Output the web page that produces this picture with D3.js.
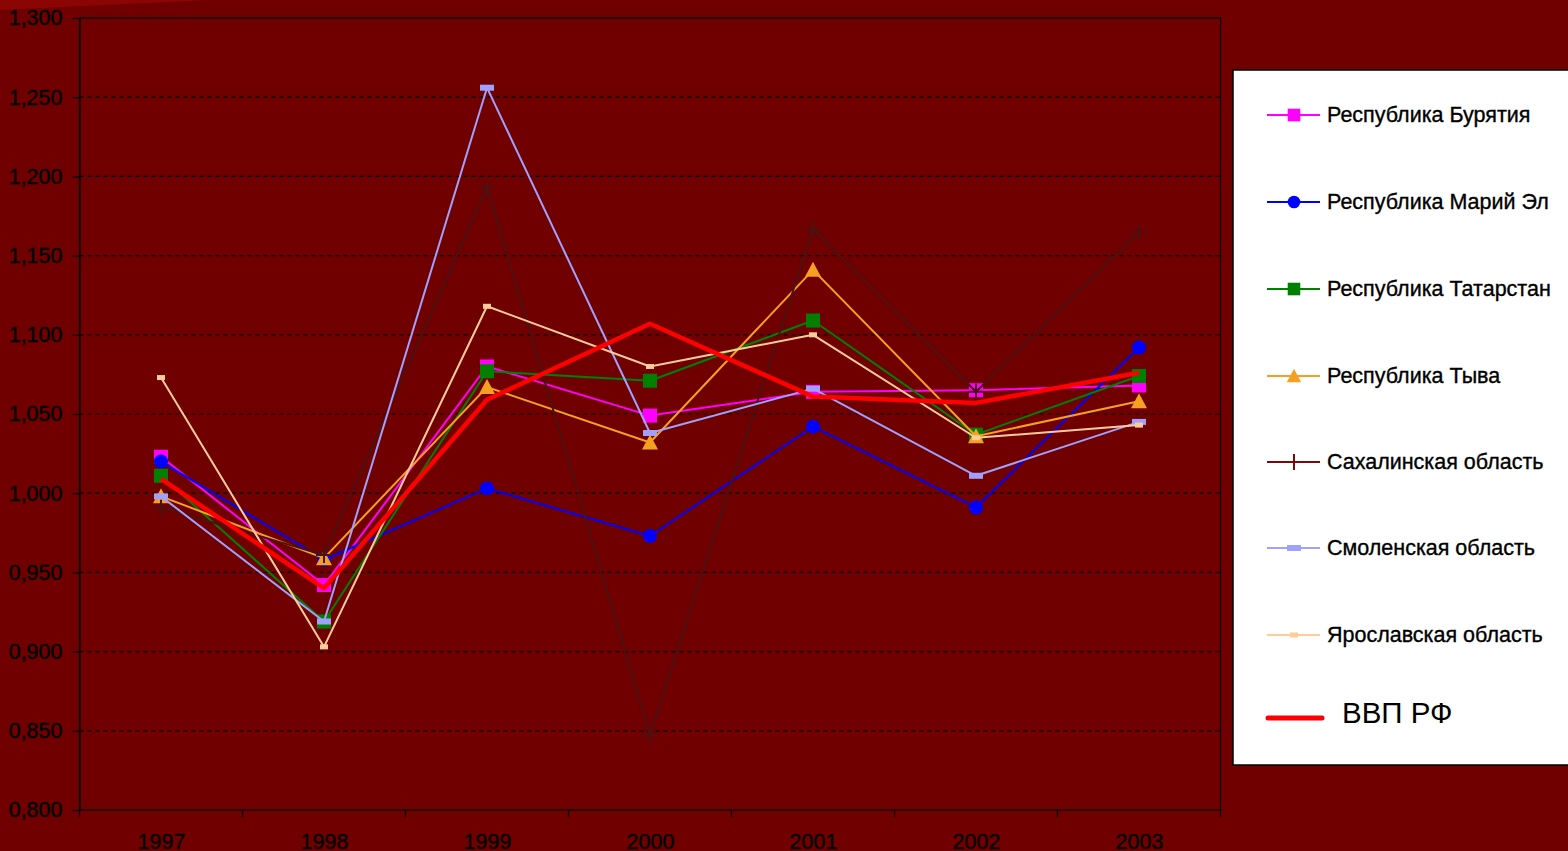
<!DOCTYPE html>
<html>
<head>
<meta charset="utf-8">
<script src="https://cdn.jsdelivr.net/npm/d3@7"></script>
<style>
  body { margin: 0; background: #700000; overflow: hidden; }
  text { font-family: "Liberation Sans", Arial, sans-serif; }
</style>
</head>
<body>
<script>
// canvas size
var w = 1568;
var h = 851;

// plot area
var pdL = 79.5;
var pdR = 1220.5;
var pdT = 18;
var pdB = 810;

// data
var years = ["1997", "1998", "1999", "2000", "2001", "2002", "2003"];
var yTicks = [0.8, 0.85, 0.9, 0.95, 1.0, 1.05, 1.1, 1.15, 1.2, 1.25, 1.3];

var buryatia  = [1.023, 0.942, 1.080, 1.049, 1.064, 1.065, 1.068];
var mariEl    = [1.020, 0.958, 1.003, 0.973, 1.042, 0.991, 1.092];
var tatarstan = [1.011, 0.919, 1.077, 1.071, 1.109, 1.037, 1.074];
var tyva      = [0.998, 0.959, 1.067, 1.032, 1.141, 1.036, 1.058];
var sakhalin  = [0.991, 0.961, 1.193, 0.847, 1.167, 1.064, 1.165];
var smolensk  = [0.998, 0.919, 1.256, 1.038, 1.066, 1.011, 1.045];
var yaroslavl = [1.073, 0.903, 1.118, 1.080, 1.100, 1.035, 1.043];
var vvp       = [1.009, 0.940, 1.059, 1.107, 1.061, 1.057, 1.076];

var series = [
  { name: "Республика Бурятия",   vals: buryatia,  col: "#ff00ff", lw: 2, mk: "square" },
  { name: "Республика Марий Эл",  vals: mariEl,    col: "#0000ff", lw: 2, mk: "circle" },
  { name: "Республика Татарстан", vals: tatarstan, col: "#008000", lw: 2, mk: "square" },
  { name: "Республика Тыва",      vals: tyva,      col: "#f5a020", lw: 2, mk: "triangle" },
  { name: "Сахалинская область",  vals: sakhalin,  col: "#4a1212", lw: 2, mk: "plus", legCol: "#7a0a0a" },
  { name: "Смоленская область",   vals: smolensk,  col: "#a0a0ff", lw: 2, mk: "dash" },
  { name: "Ярославская область",  vals: yaroslavl, col: "#ffcc99", lw: 2, mk: "smalldash" },
  { name: "ВВП РФ",               vals: vvp,       col: "#ff0000", lw: 4.5, mk: "none" }
];

var svg = d3.select("body").append("svg")
  .attr("width", w)
  .attr("height", h);

// faint lighter strip at top-left
svg.append("polygon")
  .attr("points", "0,0 210,0 0,10")
  .attr("fill", "#8c0505");

// scales
var scaleX = d3.scalePoint().domain(years).range([pdL, pdR]).padding(0.5);
var scaleY = d3.scaleLinear().domain([0.8, 1.3]).range([pdB, pdT]);
var band = scaleX.step();

// gridlines
svg.append("g").selectAll("line")
  .data(yTicks.slice(1, -1))
  .enter().append("line")
  .attr("x1", pdL).attr("x2", pdR)
  .attr("y1", function(d) { return scaleY(d); })
  .attr("y2", function(d) { return scaleY(d); })
  .attr("stroke", "#000")
  .attr("stroke-width", 1.2)
  .attr("stroke-dasharray", "4,4");

// plot border
svg.append("rect")
  .attr("x", pdL).attr("y", pdT)
  .attr("width", pdR - pdL).attr("height", pdB - pdT)
  .attr("fill", "none")
  .attr("stroke", "#000")
  .attr("stroke-width", 1.2);

// text style helper (slightly heavy, like the original)
var styleText = function(sel, size) {
  sel.attr("fill", "#000").attr("font-size", size)
     .attr("font-family", "'Liberation Sans', Arial, sans-serif")
     .attr("stroke", "#000").attr("stroke-width", 0.35);
};

// y-axis
var fmt = function(d) { return d3.format(".3f")(d).replace(".", ","); };
var axisY = d3.axisLeft(scaleY).tickValues(yTicks).tickFormat(fmt).tickSize(7).tickPadding(10);
var gY = svg.append("g").attr("transform", "translate(" + pdL + ",0)").call(axisY);
gY.select(".domain").attr("stroke", "#000").attr("stroke-width", 1.2);
gY.selectAll(".tick line").attr("stroke", "#000").attr("stroke-width", 1.2);
styleText(gY.selectAll("text"), 21.5);

// x-axis (labels at category centres, ticks at boundaries)
var axisX = d3.axisBottom(scaleX).tickSize(0).tickPadding(24);
var gX = svg.append("g").attr("transform", "translate(0," + pdB + ")").call(axisX);
gX.select(".domain").remove();
styleText(gX.selectAll("text"), 21.5);
var bounds = years.map(function(d) { return scaleX(d) - band / 2; }).concat([pdR]);
svg.append("g").selectAll("line")
  .data(bounds)
  .enter().append("line")
  .attr("x1", function(d) { return d; }).attr("x2", function(d) { return d; })
  .attr("y1", pdB).attr("y2", pdB + 7)
  .attr("stroke", "#000").attr("stroke-width", 1.2);

// marker drawing
var drawMarker = function(g, type, col, x, y, sc) {
  sc = sc || 1;
  if (type === "square") {
    g.append("rect").attr("x", x - 7 * sc).attr("y", y - 7 * sc)
      .attr("width", 14 * sc).attr("height", 14 * sc).attr("fill", col);
  } else if (type === "circle") {
    g.append("circle").attr("cx", x).attr("cy", y).attr("r", 7 * sc).attr("fill", col);
  } else if (type === "triangle") {
    g.append("path").attr("d", "M" + x + "," + (y - 8 * sc) + "L" + (x + 8 * sc) + "," + (y + 7 * sc) +
      "L" + (x - 8 * sc) + "," + (y + 7 * sc) + "Z").attr("fill", col);
  } else if (type === "plus") {
    g.append("path").attr("d", "M" + (x - 8) + "," + y + "H" + (x + 8) + "M" + x + "," + (y - 8) + "V" + (y + 8))
      .attr("stroke", col).attr("stroke-width", 2).attr("fill", "none");
  } else if (type === "dash") {
    g.append("rect").attr("x", x - 7).attr("y", y - 3).attr("width", 14).attr("height", 6).attr("fill", col);
  } else if (type === "smalldash") {
    g.append("rect").attr("x", x - 4).attr("y", y - 2.5).attr("width", 8).attr("height", 5).attr("fill", col);
  }
};

// lines
var line = d3.line()
  .x(function(d, i) { return scaleX(years[i]); })
  .y(function(d) { return scaleY(d); });

var gLines = svg.append("g");
series.forEach(function(s) {
  gLines.append("path")
    .datum(s.vals)
    .attr("d", line)
    .attr("fill", "none")
    .attr("stroke", s.col)
    .attr("stroke-width", s.lw)
    .attr("stroke-linejoin", "round");
  s.vals.forEach(function(v, i) {
    drawMarker(gLines, s.mk, s.col, scaleX(years[i]), scaleY(v));
  });
});

// legend
var lg = svg.append("g");
lg.append("rect")
  .attr("x", 1233).attr("y", 70)
  .attr("width", 345).attr("height", 695)
  .attr("fill", "#fff")
  .attr("stroke", "#000").attr("stroke-width", 1.5);

var legY = [115, 202, 289, 376, 462, 548, 635, 718];
series.forEach(function(s, i) {
  var y = legY[i];
  var c = s.legCol || s.col;
  if (s.mk === "none") {
    lg.append("line").attr("x1", 1268).attr("x2", 1322).attr("y1", y).attr("y2", y)
      .attr("stroke", c).attr("stroke-width", 5).attr("stroke-linecap", "round");
    lg.append("text").attr("x", 1342).attr("y", y + 5).text(s.name)
      .attr("font-size", 29.5).attr("fill", "#000");
  } else {
    lg.append("line").attr("x1", 1267).attr("x2", 1320).attr("y1", y).attr("y2", y)
      .attr("stroke", c).attr("stroke-width", 2);
    drawMarker(lg, s.mk, c, 1294, y, 0.9);
    styleText(lg.append("text").attr("x", 1327).attr("y", y + 7).text(s.name), 21.5);
  }
});
</script>
</body>
</html>
